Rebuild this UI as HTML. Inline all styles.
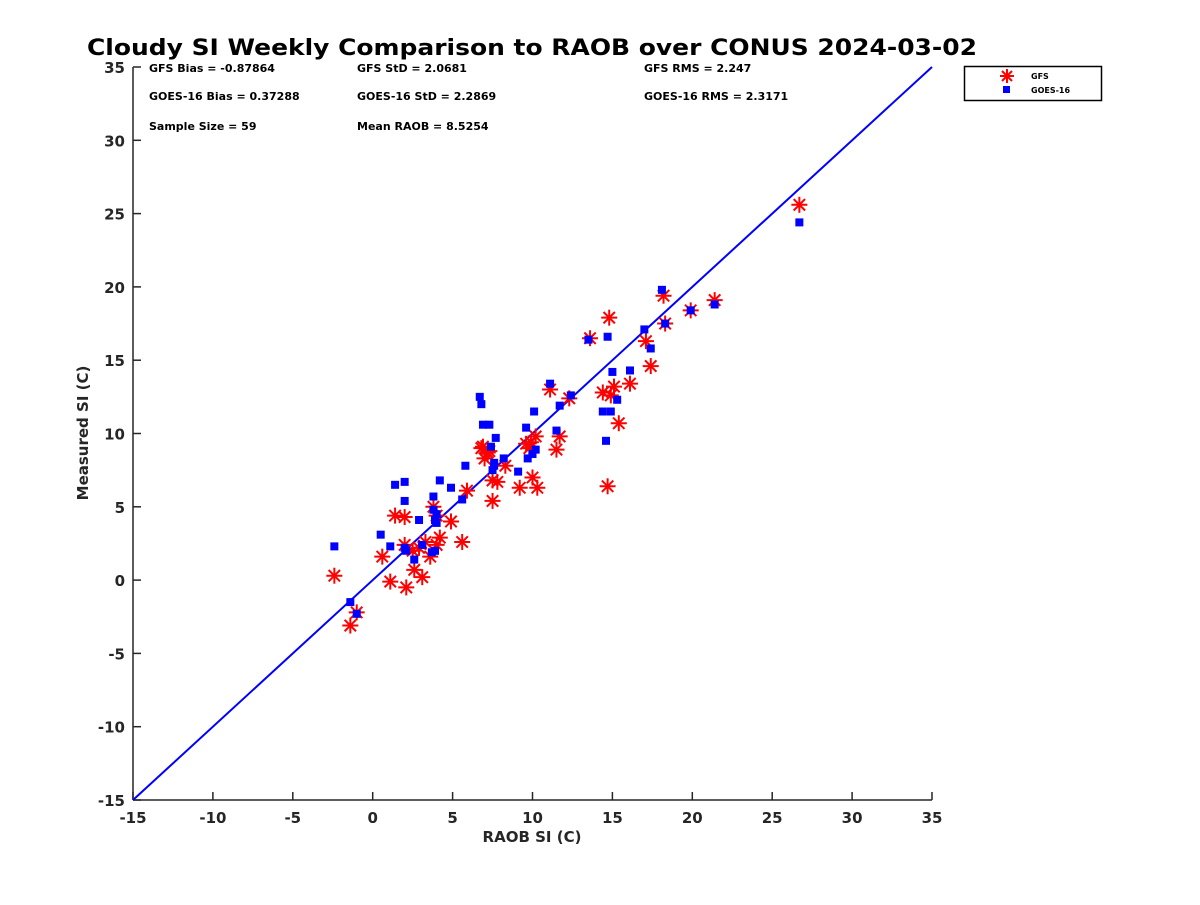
<!DOCTYPE html>
<html><head><meta charset="utf-8"><style>
body{margin:0;background:#fff}
svg text{font-family:"DejaVu Sans","Liberation Sans",sans-serif;font-weight:bold}
</style></head><body>
<svg id="chart" width="1200" height="900" xmlns="http://www.w3.org/2000/svg">
<rect width="1200" height="900" fill="#fff"/>
<text x="532" y="55" font-size="22" text-anchor="middle" textLength="890" lengthAdjust="spacingAndGlyphs">Cloudy SI Weekly Comparison to RAOB over CONUS 2024-03-02</text>
<g font-size="11">
<text x="149" y="72">GFS Bias = -0.87864</text>
<text x="357" y="72">GFS StD = 2.0681</text>
<text x="644" y="72">GFS RMS = 2.247</text>
<text x="149" y="100">GOES-16 Bias = 0.37288</text>
<text x="357" y="100">GOES-16 StD = 2.2869</text>
<text x="644" y="100">GOES-16 RMS = 2.3171</text>
<text x="149" y="130">Sample Size = 59</text>
<text x="357" y="130">Mean RAOB = 8.5254</text>
</g>
<g id="axes"></g>
<g id="marks"></g>
<g>
<rect x="964.5" y="66.5" width="137" height="34" fill="#fff" stroke="#000" stroke-width="1.5"/>
<g stroke="red" stroke-width="2">
<line x1="1007" y1="69" x2="1007" y2="83"/><line x1="1000" y1="76" x2="1014" y2="76"/>
<line x1="1002" y1="71" x2="1012" y2="81"/><line x1="1002" y1="81" x2="1012" y2="71"/></g>
<rect x="1003" y="86" width="7" height="7" fill="#0000ff"/>
<text x="1031" y="79" font-size="8">GFS</text>
<text x="1031" y="93" font-size="8">GOES-16</text>
</g>
</svg>
<script>
const xTicks=[-15,-10,-5,0,5,10,15,20,25,30,35];
const yTicks=[-15,-10,-5,0,5,10,15,20,25,30,35];
const gfsX=[-2.4,-1.4,-1.0,0.6,1.1,1.4,2.0,2.0,2.1,2.6,2.9,3.1,3.6,3.8,4.0,4.0,4.2,4.9,5.6,5.9,6.8,7.0,7.2,7.5,7.5,7.8,8.3,9.2,9.6,9.8,10.0,10.2,10.3,11.1,11.5,11.7,12.3,13.6,14.4,14.8,14.7,14.9,15.1,15.4,16.1,17.1,17.4,18.2,18.3,19.9,21.4,26.7,6.9,7.3,3.3,2.5,9.9];
const gfsY=[0.3,-3.1,-2.2,1.6,-0.1,4.4,4.3,2.4,-0.5,0.7,2.2,0.2,1.6,5.0,4.4,2.4,2.9,4.0,2.6,6.1,9.0,8.3,8.7,6.8,5.4,6.7,7.8,6.3,9.3,9.0,7.0,9.8,6.3,13.0,8.9,9.8,12.4,16.5,12.8,17.9,6.4,12.6,13.2,10.7,13.4,16.3,14.6,19.4,17.5,18.4,19.1,25.6,9.1,8.8,2.6,2.0,9.4];
const goesX=[-2.4,-1.4,-1.0,0.5,1.1,1.4,2.0,2.0,2.1,2.6,2.9,3.1,3.8,3.8,3.9,4.0,3.7,4.2,4.9,5.6,5.8,6.7,6.8,6.9,7.3,7.4,7.7,7.6,7.5,8.2,9.1,9.6,9.7,10.1,10.2,11.1,11.5,11.7,12.4,13.5,14.4,14.9,14.6,14.7,15.0,15.3,16.1,17.0,17.4,18.1,18.3,19.9,21.4,26.7,3.9,10.0,4.0,7.6,2.0];
const goesY=[2.3,-1.5,-2.3,3.1,2.3,6.5,6.7,5.4,2.0,1.4,4.1,2.4,5.7,4.8,4.1,3.9,1.9,6.8,6.3,5.5,7.8,12.5,12.0,10.6,10.6,9.1,9.7,8.0,7.5,8.3,7.4,10.4,8.3,11.5,8.9,13.4,10.2,11.9,12.6,16.4,11.5,11.5,9.5,16.6,14.2,12.3,14.3,17.1,15.8,19.8,17.5,18.4,18.8,24.4,2.0,8.6,4.5,7.8,2.2];
const x0=133,x1=932,y0=800,y1=67;
function sx(v){return x0+(v+15)/50*(x1-x0);}
function sy(v){return y0-(v+15)/50*(y0-y1);}
const NS='http://www.w3.org/2000/svg';
function mk(t,a,p){const e=document.createElementNS(NS,t);for(const k in a)e.setAttribute(k,a[k]);p.appendChild(e);return e;}
const axes=document.getElementById('axes'),marks=document.getElementById('marks');
const AC='#262626';
const xa=mk('line',{x1:x0,y1:y0,x2:x1,y2:y0,stroke:AC,'stroke-width':1.5},axes);


const ya=mk('line',{x1:x0,y1:y0,x2:x0,y2:y1,stroke:AC,'stroke-width':1.5},axes);


xTicks.forEach(v=>{const x=sx(v);
mk('line',{x1:x,y1:y0,x2:x,y2:y0-8,stroke:AC,'stroke-width':1.5},axes);
const t=mk('text',{x:x,y:y0+23,'font-size':15,'text-anchor':'middle',fill:AC},axes);t.textContent=v;

});
yTicks.forEach(v=>{const y=sy(v);
mk('line',{x1:x0,y1:y,x2:x0+8,y2:y,stroke:AC,'stroke-width':1.5},axes);
const t=mk('text',{x:x0-8,y:y+6,'font-size':15,'text-anchor':'end',fill:AC},axes);t.textContent=v;

});
const xt=mk('text',{x:532,y:842,'font-size':15,'text-anchor':'middle',fill:AC},axes);xt.textContent='RAOB SI (C)';


const yt=mk('text',{x:88,y:433,'font-size':15,'text-anchor':'middle',fill:AC,transform:'rotate(-90 88 433)'},axes);yt.textContent='Measured SI (C)';


const ol=mk('line',{x1:sx(-15),y1:sy(-15),x2:sx(35),y2:sy(35),stroke:'#0000ff','stroke-width':2},marks);


gfsX.forEach((v,i)=>{const x=sx(v),y=sy(gfsY[i]);
const g=mk('g',{stroke:'red','stroke-width':2},marks);


mk('line',{x1:x,y1:y-8,x2:x,y2:y+8},g);mk('line',{x1:x-8,y1:y,x2:x+8,y2:y},g);
mk('line',{x1:x-5.7,y1:y-5.7,x2:x+5.7,y2:y+5.7},g);mk('line',{x1:x-5.7,y1:y+5.7,x2:x+5.7,y2:y-5.7},g);});
goesX.forEach((v,i)=>{const x=sx(v),y=sy(goesY[i]);
const r=mk('rect',{x:x-4,y:y-4,width:8,height:8,fill:'#0000ff'},marks);

});
</script>
</body></html>
